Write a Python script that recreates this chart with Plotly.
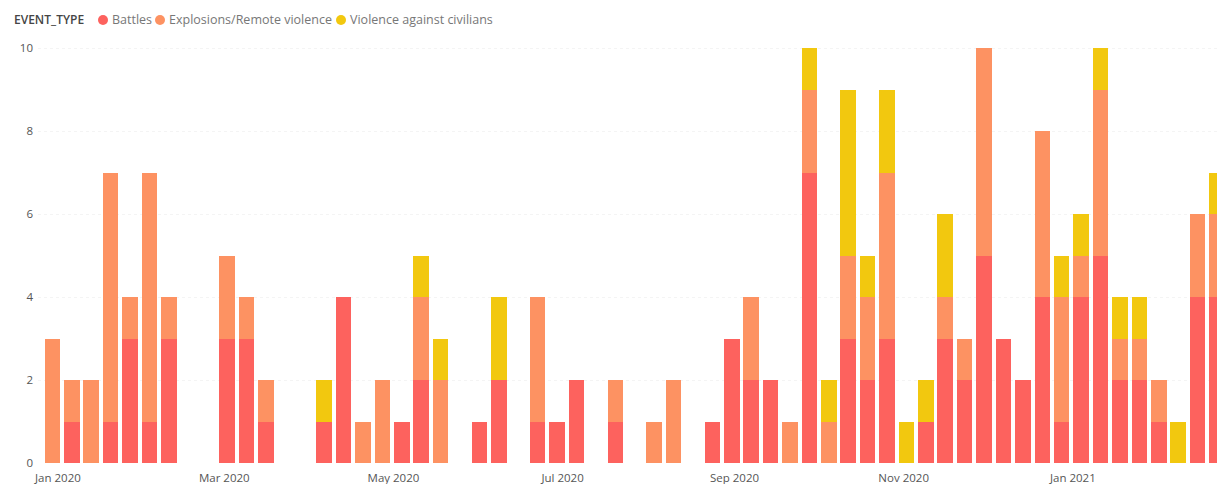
import pandas as pd
import plotly.graph_objects as go

# ---- data ----
week_start = "2019-12-30"
n_weeks = 61
weeks = pd.date_range(week_start, periods=n_weeks, freq="7D")

battles = [0, 1, 0, 1, 3, 1, 3, 0, 0, 3,
           3, 1, 0, 0, 1, 4, 0, 0, 1, 2,
           0, 0, 1, 2, 0, 1, 1, 2, 0, 1,
           0, 0, 0, 0, 1, 3, 2, 2, 0, 7,
           0, 3, 2, 3, 0, 1, 3, 2, 5, 3,
           2, 4, 1, 4, 5, 2, 2, 1, 0, 4,
           4]
explosions = [3, 1, 2, 6, 1, 6, 1, 0, 0, 2,
              1, 1, 0, 0, 0, 0, 1, 2, 0, 2,
              2, 0, 0, 0, 0, 3, 0, 0, 0, 1,
              0, 1, 2, 0, 0, 0, 2, 0, 1, 2,
              1, 2, 2, 4, 0, 0, 1, 1, 5, 0,
              0, 4, 3, 1, 4, 1, 1, 1, 0, 2,
              2]
civilians = [0, 0, 0, 0, 0, 0, 0, 0, 0, 0,
             0, 0, 0, 0, 1, 0, 0, 0, 0, 1,
             1, 0, 0, 2, 0, 0, 0, 0, 0, 0,
             0, 0, 0, 0, 0, 0, 0, 0, 0, 1,
             1, 4, 1, 2, 1, 1, 2, 0, 0, 0,
             0, 0, 1, 1, 1, 1, 1, 0, 1, 0,
             1]

series_names = ["Battles", "Explosions/Remote violence", "Violence against civilians"]
series_values = [battles, explosions, civilians]
colors = ["#FD625E", "#FD9262", "#F2C80F"]
legend_title = "EVENT_TYPE"

FONT = "Open Sans"
W, H = 1217, 484
ML, MR, MT, MB = 38, 0, 40, 21
PW = W - ML - MR
PH = H - MT - MB
Y_MAX = 10.2

bar_width_ms = 5.6 * 86400000

fig = go.Figure()
for name, vals, col in zip(series_names, series_values, colors):
    fig.add_trace(go.Bar(
        x=weeks, y=vals, name=name, marker=dict(color=col, line=dict(width=0)),
        width=bar_width_ms, showlegend=False,
    ))


def px_to_paper_x(px):
    return (px - ML) / PW


def px_to_paper_y(py):
    return (H - MB - py) / PH


# manual legend (circle markers, tight spacing like the original)
legend_y = 20
annotations = [dict(
    text=legend_title, xref="paper", yref="paper",
    x=px_to_paper_x(12), y=px_to_paper_y(legend_y), xanchor="left", yanchor="middle",
    showarrow=False, font=dict(family=FONT, size=12, color="#454545", weight=600),
)]
shapes = []
legend_items = [(103, 110), (160, 167), (341, 348)]
for (cx, tx), name, col in zip(legend_items, series_names, colors):
    shapes.append(dict(
        type="circle", xref="paper", yref="paper",
        xsizemode="pixel", ysizemode="pixel",
        xanchor=px_to_paper_x(cx), yanchor=px_to_paper_y(legend_y),
        x0=-5, x1=5, y0=-5, y1=5,
        fillcolor=col, line=dict(width=0),
    ))
    annotations.append(dict(
        text=name, xref="paper", yref="paper",
        x=px_to_paper_x(tx), y=px_to_paper_y(legend_y), xanchor="left", yanchor="middle",
        showarrow=False, font=dict(family=FONT, size=12.5, color="#777777"),
    ))

fig.update_layout(
    barmode="stack",
    width=W, height=H,
    margin=dict(l=ML, r=MR, t=MT, b=MB, pad=0),
    paper_bgcolor="white", plot_bgcolor="white",
    font=dict(family=FONT, size=12, color="#666666"),
    annotations=annotations,
    shapes=shapes,
    showlegend=False,
    xaxis=dict(
        type="date",
        range=["2019-12-24 19:40", "2021-02-22 00:00"],
        tick0="2020-01-01", dtick="M2", tickformat="%b %Y",
        showgrid=False, zeroline=False, showline=False, ticks="",
        ticklabelstandoff=6,
        tickfont=dict(family=FONT, size=11.5, color="#555555"),
    ),
    yaxis=dict(
        range=[0, Y_MAX], tick0=0, dtick=2,
        showgrid=True, gridcolor="#f4f4f4", griddash="dot",
        zeroline=False, showline=False, ticks="",
        ticklabelstandoff=4,
        tickfont=dict(family=FONT, size=11.5, color="#555555"),
    ),
)

fig.write_html(
    "out.html",
    config={"displayModeBar": False},
    post_script="document.body.style.margin='0';document.body.style.overflow='hidden';",
)
